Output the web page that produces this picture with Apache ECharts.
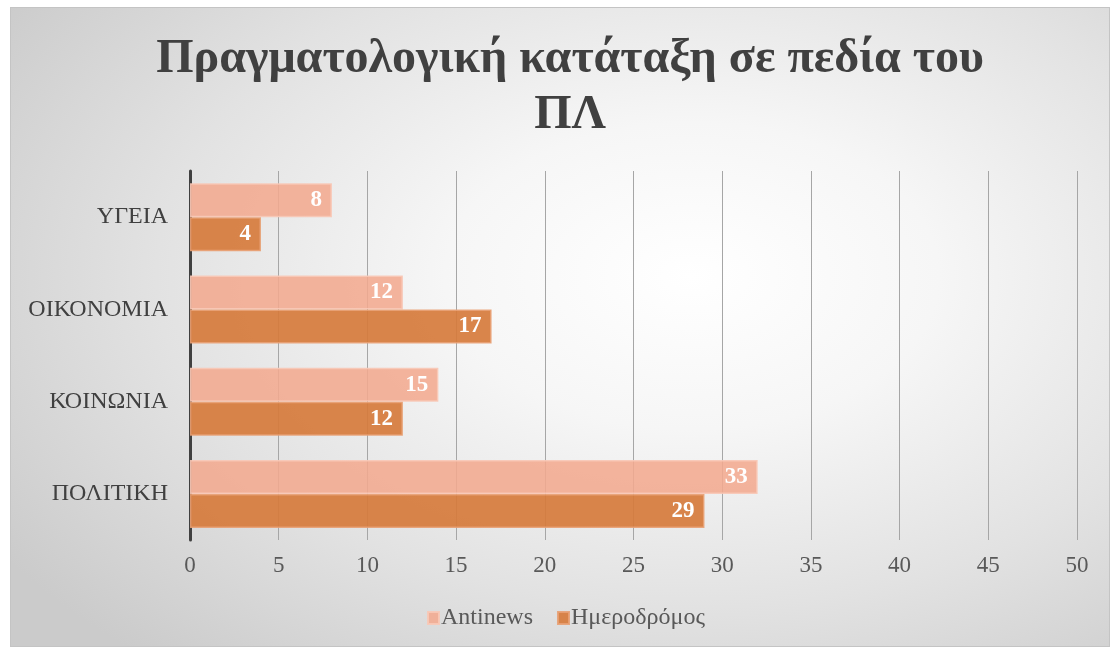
<!DOCTYPE html>
<html>
<head>
<meta charset="utf-8">
<script src="https://cdn.jsdelivr.net/npm/echarts@6/dist/echarts.min.js"></script>
<style>
	html, body { margin: 0; padding: 0; background: #ffffff; }
	.bg {
		position: absolute; left: 10px; top: 7px; width: 1100px; height: 640px;
		border: 1px solid #c4c4c4; box-sizing: border-box;
		background: radial-gradient(ellipse 75% 80% at 62% 42%, #ffffff 0%, #f6f6f6 30%, #e2e2e2 65%, #cbcbcb 100%);
	}
	.chart { position: absolute; left: 0; top: 0; width: 1113px; height: 650px; }
</style>
</head>
<body>
<div class="bg"></div>
<div class="chart"></div>
<script>
// κατηγορίες (από κάτω προς τα πάνω)
const categories = ['ΠΟΛΙΤΙΚΗ', 'ΚΟΙΝΩΝΙΑ', 'ΟΙΚΟΝΟΜΙΑ', 'ΥΓΕΙΑ'];
const seriesNames = ['Antinews', 'Ημεροδρόμος'];
// μήκη ράβδων όπως φαίνονται στο διάγραμμα
const antinewsValues = [32, 14, 12, 8];
const hmerodromosValues = [29, 12, 17, 4];
// ετικέτες όπως γράφονται πάνω στις ράβδους
const antinewsLabels = [33, 15, 12, 8];
const hmerodromosLabels = [29, 12, 17, 4];
const xTicks = [0, 5, 10, 15, 20, 25, 30, 35, 40, 45, 50];

(function () {
	let myChart = echarts.init(document.querySelector('.chart'))
	const serif = '"Liberation Serif", "Times New Roman", serif'
	const barLabel = function (labels) {
		return {
			show: true,
			position: 'insideRight',
			distance: 10,
			color: '#ffffff',
			fontFamily: serif,
			fontWeight: 'bold',
			fontSize: 23,
			formatter: function (p) { return labels[p.dataIndex] }
		}
	}
	const option = {
		title: {
			text: 'Πραγματολογική κατάταξη σε πεδία του\nΠΛ',
			left: 565,
			top: 27,
			textAlign: 'center',
			textStyle: {
				fontFamily: serif,
				fontWeight: 'bold',
				fontSize: 48,
				lineHeight: 56,
				color: '#404040'
			}
		},
		legend: {
			data: seriesNames,
			left: 422,
			top: 601,
			itemWidth: 11,
			itemHeight: 12,
			itemGap: 24,
			icon: 'rect',
			textStyle: {
				fontFamily: serif,
				fontSize: 24,
				color: '#595959',
				padding: [0, 0, 0, -3]
			}
		},
		grid: {
			left: 190,
			right: 36,
			top: 171,
			bottom: 110
		},
		xAxis: {
			type: 'value',
			min: xTicks[0],
			max: xTicks[xTicks.length - 1],
			interval: 5,
			axisLine: { show: false },
			axisTick: { show: false },
			axisLabel: {
				fontFamily: serif,
				fontSize: 23,
				color: '#595959',
				margin: 14
			},
			splitLine: {
				lineStyle: { color: '#a6a6a6', width: 1 }
			}
		},
		yAxis: {
			type: 'category',
			data: categories,
			axisLine: {
				show: true,
				lineStyle: { color: '#404040', width: 3 }
			},
			axisTick: { show: false },
			axisLabel: {
				fontFamily: serif,
				fontSize: 24,
				color: '#404040',
				margin: 22
			}
		},
		series: [
			{
				name: seriesNames[0],
				type: 'bar',
				data: antinewsValues,
				barWidth: 34,
				barGap: '0%',
				itemStyle: {
					color: 'rgba(243, 170, 143, 0.88)',
					borderColor: 'rgba(248, 200, 182, 0.9)',
					borderWidth: 1.5
				},
				label: barLabel(antinewsLabels)
			},
			{
				name: seriesNames[1],
				type: 'bar',
				data: hmerodromosValues,
				barWidth: 34,
				barGap: '0%',
				itemStyle: {
					color: 'rgba(214, 123, 60, 0.92)',
					borderColor: 'rgba(232, 160, 115, 0.9)',
					borderWidth: 1.5
				},
				label: barLabel(hmerodromosLabels)
			}
		]
	};
	myChart.setOption(option)
})();
</script>
</body>
</html>
